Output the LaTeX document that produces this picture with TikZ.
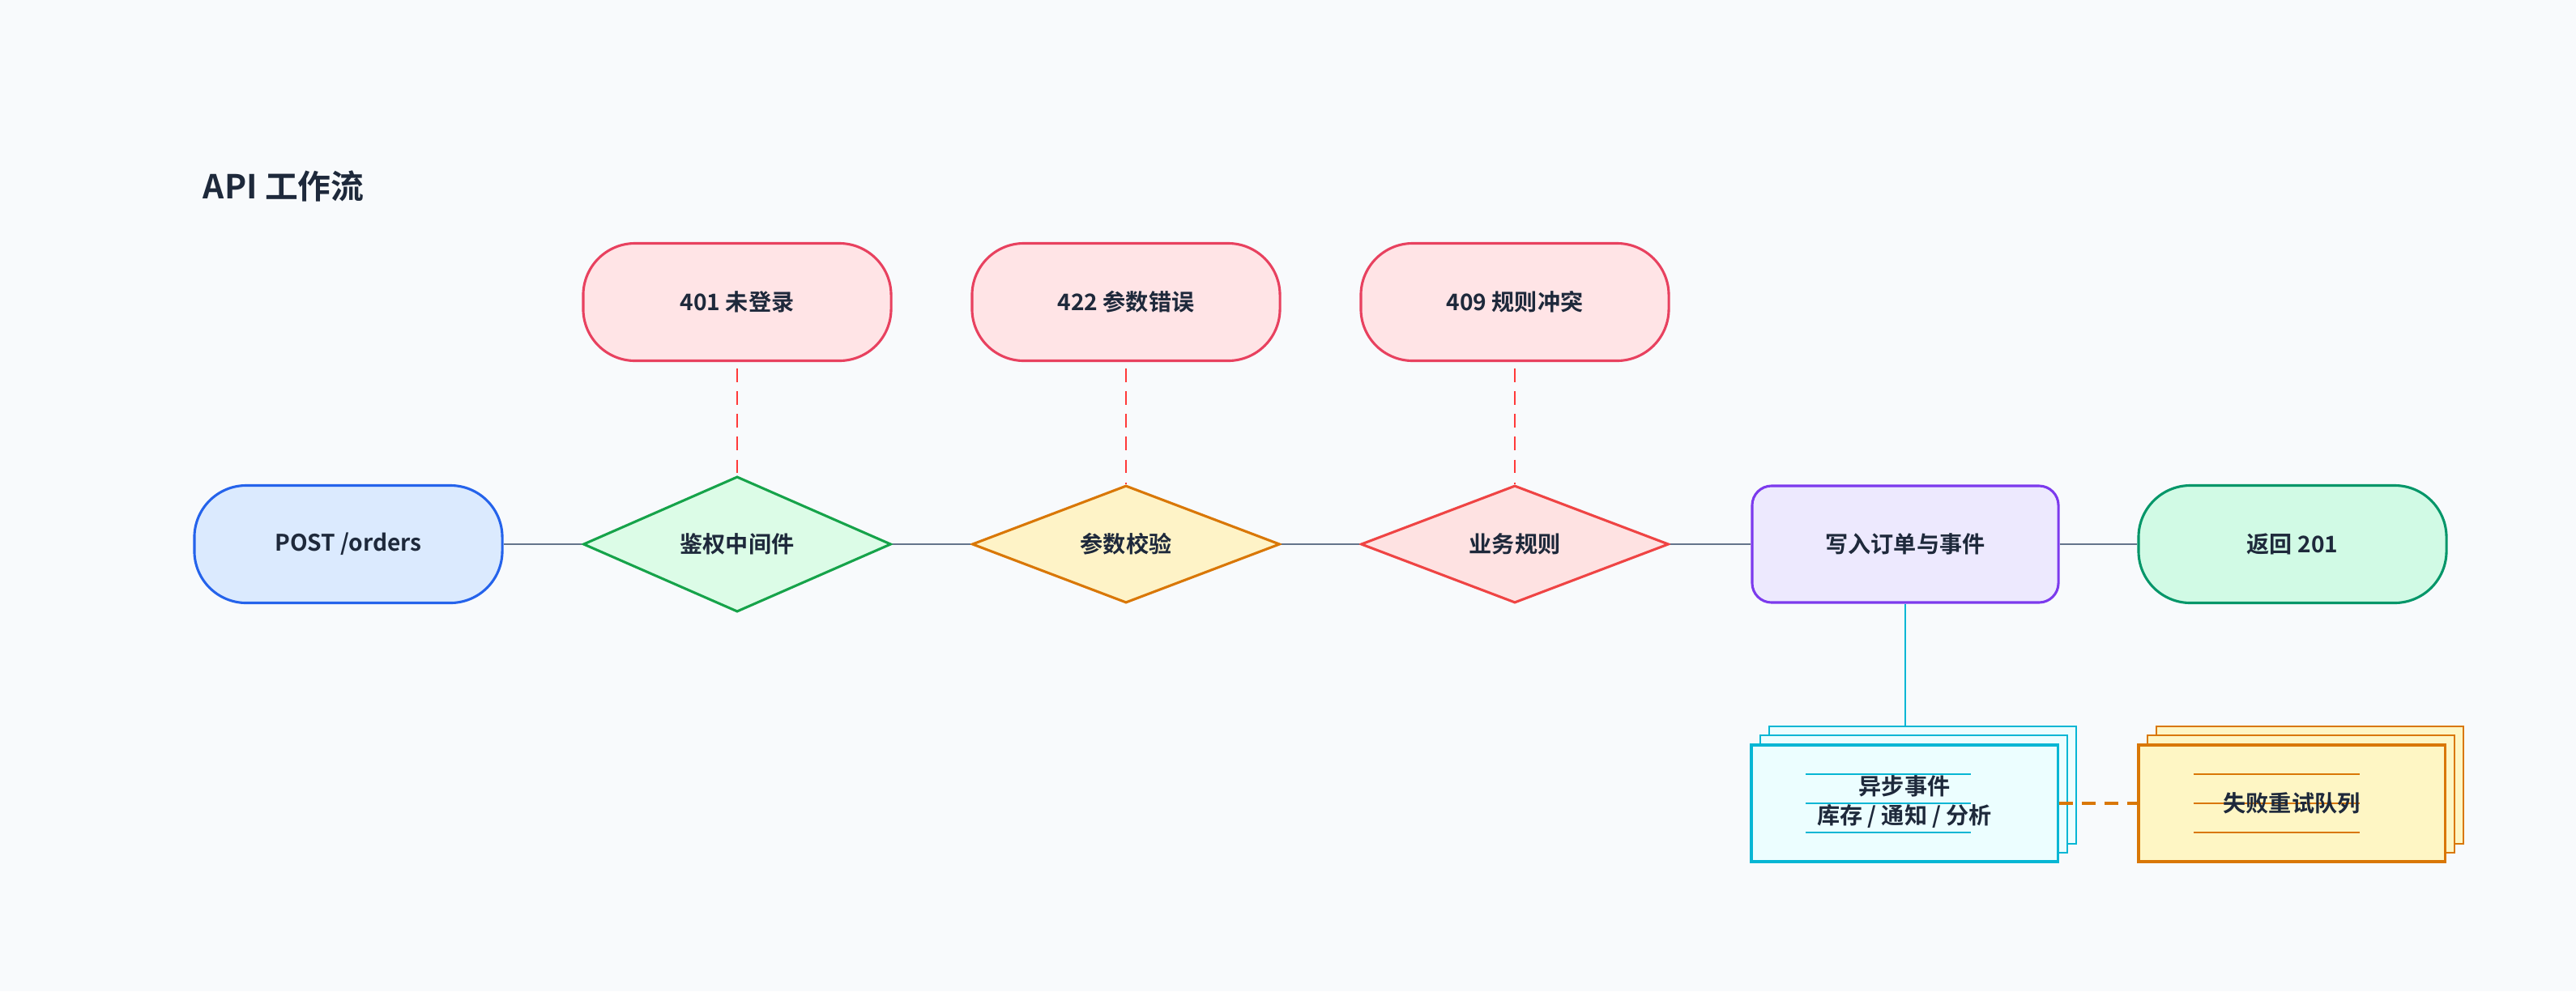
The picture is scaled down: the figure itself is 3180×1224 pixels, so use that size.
\documentclass[tikz,border=0pt]{standalone}
\usepackage{fontspec}
\setmainfont{Noto Sans CJK SC}[BoldFont={* Bold}]
\usetikzlibrary{shapes.geometric}
\definecolor{bg}{HTML}{F8FAFC}
\definecolor{ink}{HTML}{1E293B}
\definecolor{conn}{HTML}{64748B}
\begin{document}
\begin{tikzpicture}[x=0.025cm,y=-0.025cm,
  lbl/.style={font=\fontsize{20}{26}\selectfont\bfseries, text=ink, align=center},
  pill/.style={lbl, rectangle, rounded corners=1.6cm, minimum width=9.5cm, minimum height=3.625cm, line width=2.2pt},
  dia/.style={lbl, diamond, minimum width=9.5cm, minimum height=3.625cm, inner sep=0pt, line width=2.2pt},
  box/.style={lbl, rectangle, minimum width=9.45cm, minimum height=3.6cm, line width=2.2pt},
  line/.style={draw=conn, line width=2pt},
  err/.style={draw=red!70!pink, line width=2pt, dash pattern=on 12pt off 8pt}]
\fill[bg] (0,0) rectangle (3180,1224);
\node[anchor=west, font=\fontsize{29}{34}\selectfont\bfseries, text=ink] (title) at (246,230) {API 工作流};
\node[pill, draw={rgb,255:red,37;green,99;blue,235}, fill={rgb,255:red,219;green,234;blue,254}] (post) at (430,672) {POST /orders};
\node[dia, draw={rgb,255:red,22;green,163;blue,74}, fill={rgb,255:red,220;green,252;blue,231}] (auth) at (910,672) {鉴权中间件};
\node[dia, draw={rgb,255:red,217;green,119;blue,6}, fill={rgb,255:red,254;green,243;blue,199}] (valid) at (1390,672) {参数校验};
\node[dia, draw={rgb,255:red,239;green,68;blue,68}, fill={rgb,255:red,254;green,226;blue,226}] (biz) at (1870,672) {业务规则};
\node[box, rounded corners=0.6cm, draw={rgb,255:red,124;green,58;blue,237}, fill={rgb,255:red,237;green,233;blue,254}] (write) at (2352,672) {写入订单与事件};
\node[pill, draw={rgb,255:red,5;green,150;blue,105}, fill={rgb,255:red,209;green,250;blue,229}] (ret) at (2830,672) {返回 201};
\tikzset{errpill/.style={pill, draw={rgb,255:red,232;green,65;blue,95}, fill={rgb,255:red,255;green,228;blue,230}}}
\node[errpill] (e401) at (910,373) {401 未登录};
\node[errpill] (e422) at (1390,373) {422 参数错误};
\node[errpill] (e409) at (1870,373) {409 规则冲突};
\draw[line] (post) -- (auth);
\draw[line] (auth) -- (valid);
\draw[line] (valid) -- (biz);
\draw[line] (biz) -- (write);
\draw[line] (write) -- (ret);
\draw[err] ([yshift=-0.2cm]e401.south) -- (auth.north);
\draw[err] ([yshift=-0.2cm]e422.south) -- (valid.north);
\draw[err] ([yshift=-0.2cm]e409.south) -- (biz.north);
% async stack
\colorlet{cy}{rgb,255:red,6;green,182;blue,212}
\colorlet{cyf}{rgb,255:red,236;green,254;blue,255}
\colorlet{or}{rgb,255:red,217;green,119;blue,6}
\colorlet{orf}{rgb,255:red,254;green,246;blue,196}
\draw[cy, fill=cyf, line width=1.4pt] (2184,897) rectangle (2563,1042);
\draw[cy, fill=cyf, line width=1.6pt] (2173,908) rectangle (2552,1053);
\draw[or, fill=orf, line width=1.8pt] (2662,897) rectangle (3041,1042);
\draw[or, fill=orf, line width=2pt] (2651,908) rectangle (3030,1053);
\node[box, draw=cy, fill=cyf] (async) at (2351,992) {};
\node[box, draw=or, fill=orf] (queue) at (2829,992) {};
\foreach \yy in {956,992,1028}{
  \draw[cy, line width=2pt] (2229,\yy) -- (2433,\yy);
  \draw[or, line width=2pt] (2708,\yy) -- (2913,\yy);
}
\node[lbl] (asynct) at (2351,990) {异步事件\\库存 / 通知 / 分析};
\node[lbl] (queuet) at (2829,992) {失败重试队列};
\draw[cy, line width=2pt] (write.south) -- (2352,897);
\draw[or, line width=2.4pt, dash pattern=on 12pt off 8pt] (async.east) -- (queue.west);
\end{tikzpicture}
\end{document}
